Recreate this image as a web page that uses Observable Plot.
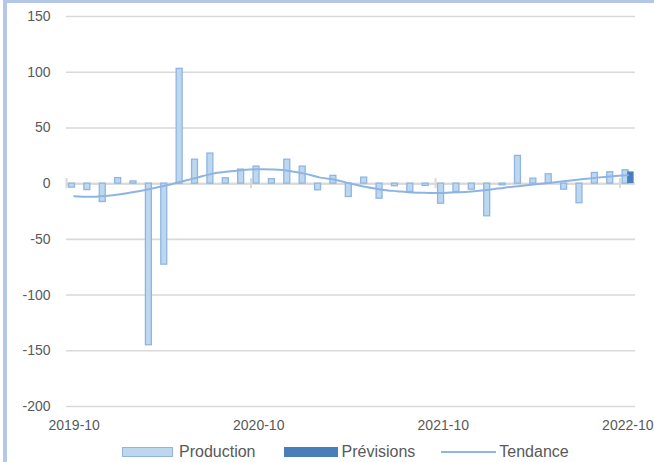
<!DOCTYPE html>
<html><head><meta charset="utf-8">
<script src="https://cdn.jsdelivr.net/npm/d3@7"></script>
<script src="https://cdn.jsdelivr.net/npm/@observablehq/plot@0.6"></script>
<style>
html,body{margin:0;padding:0;background:#fff;overflow:hidden;}
body{font-family:"Liberation Sans",Arial,sans-serif;width:654px;height:462px;position:relative;}
#chart svg{display:block;}
#frame{position:absolute;left:3px;top:-1px;width:720px;height:540px;border:4px solid #b4c7e7;pointer-events:none;}
#legend{display:flex;align-items:center;height:20px;padding-left:122px;font-size:16px;color:#595959;white-space:nowrap;}
.sw{display:inline-block;box-sizing:border-box;height:10px;}
</style></head><body>
<div id="chart"></div>
<div id="legend"></div>
<div id="frame"></div>
<script>
const months = ["2019-10","2019-11","2019-12","2020-01","2020-02","2020-03","2020-04","2020-05","2020-06","2020-07","2020-08","2020-09",
"2020-10","2020-11","2020-12","2021-01","2021-02","2021-03","2021-04","2021-05","2021-06","2021-07","2021-08","2021-09",
"2021-10","2021-11","2021-12","2022-01","2022-02","2022-03","2022-04","2022-05","2022-06","2022-07","2022-08","2022-09","2022-10"];
const production = [-3.6,-5.8,-16.5,5,2,-145,-72.7,103,21.5,27,4.8,12.6,
15.3,4,21.5,15.3,-6,7,-12,5.4,-13.5,-2.3,-7.5,-2,
-18,-7.5,-5.4,-29.3,-1.5,24.9,4.5,8.4,-5.4,-17.6,9.6,10.2,12];
const previsions = [null,null,null,null,null,null,null,null,null,null,null,null,
null,null,null,null,null,null,null,null,null,null,null,null,
null,null,null,null,null,null,null,null,null,null,null,null,10.5];
const tendance = [-11.3,-11.8,-11,-9.5,-7.2,-4.5,-1.5,2,5.4,9,10.8,12.3,
12.9,12.6,11.4,9,5.4,3.3,0,-3,-5.4,-6.8,-8,-8.3,
-8.3,-7.8,-6.8,-5.4,-3.6,-2.1,-0.6,0.9,2.4,3.9,5.4,6.6,7.5];
const yTicks = [-200,-150,-100,-50,0,50,100,150];
const xTickLabels = ["2019-10","2020-10","2021-10","2022-10"];
const seriesNames = ["Production","Prévisions","Tendance"];

const rows = months.map((m,i)=>({month:m, production:production[i], previsions:previsions[i], tendance:tendance[i]}));
const W = 654, H = 442, ML = 66, MR = 19;
const step = (W - ML - MR) / months.length;
const grey = "#595959";

const plot = Plot.plot({
  width: W, height: H,
  marginLeft: ML, marginRight: MR, marginTop: 16, marginBottom: 36,
  style: {fontFamily: "'Liberation Sans', Arial, sans-serif", fontSize: "14px", color: grey, background: "#fff"},
  x: {type: "band", domain: months, padding: 0, round: false},
  y: {domain: [-200, 150]},
  marks: [
    Plot.gridY(yTicks, {stroke: "#d9d9d9", strokeOpacity: 1, strokeWidth: 1.6}),
    Plot.axisY(yTicks, {tickSize: 0, tickPadding: 16, label: null, fill: grey, tickFormat: d => String(d)}),
    Plot.axisX(xTickLabels, {tickSize: 0, tickPadding: 14, label: null, fill: grey}),
    Plot.ruleY([0], {stroke: "#d9d9d9", strokeWidth: 2}),
    Plot.ruleX(xTickLabels, {x: d => d, y1: 0, y2: 0, insetTop: -5, insetBottom: -5, dx: -step / 2, stroke: "#d9d9d9", strokeWidth: 2}),
    Plot.barY(rows.filter(d => d.production != null), {x: "month", y: "production", fill: "#bdd7ee", stroke: "#8fb6e2", strokeWidth: 1.3, insetLeft: 2.5, insetRight: 6.9}),
    Plot.barY(rows.filter(d => d.previsions != null), {x: "month", y: "previsions", fill: "#4a7ebb", insetLeft: 7.5, insetRight: 1.4}),
    Plot.line(rows, {x: "month", y: "tendance", stroke: "#8eb4e3", strokeWidth: 2, curve: "catmull-rom"})
  ]
});
document.getElementById("chart").appendChild(plot);

const legend = document.getElementById("legend");
legend.innerHTML =
  `<span class="sw" style="width:51px;background:#bdd7ee;border:1.3px solid #8fb6e2;margin-right:6px"></span><span style="margin-right:28px">${seriesNames[0]}</span>` +
  `<span class="sw" style="width:54px;background:#4a7ebb;margin-right:4px"></span><span style="margin-right:26px">${seriesNames[1]}</span>` +
  `<span class="sw" style="width:55px;height:2px;background:#8eb4e3;margin-right:3px"></span><span>${seriesNames[2]}</span>`;
</script>
</body></html>
